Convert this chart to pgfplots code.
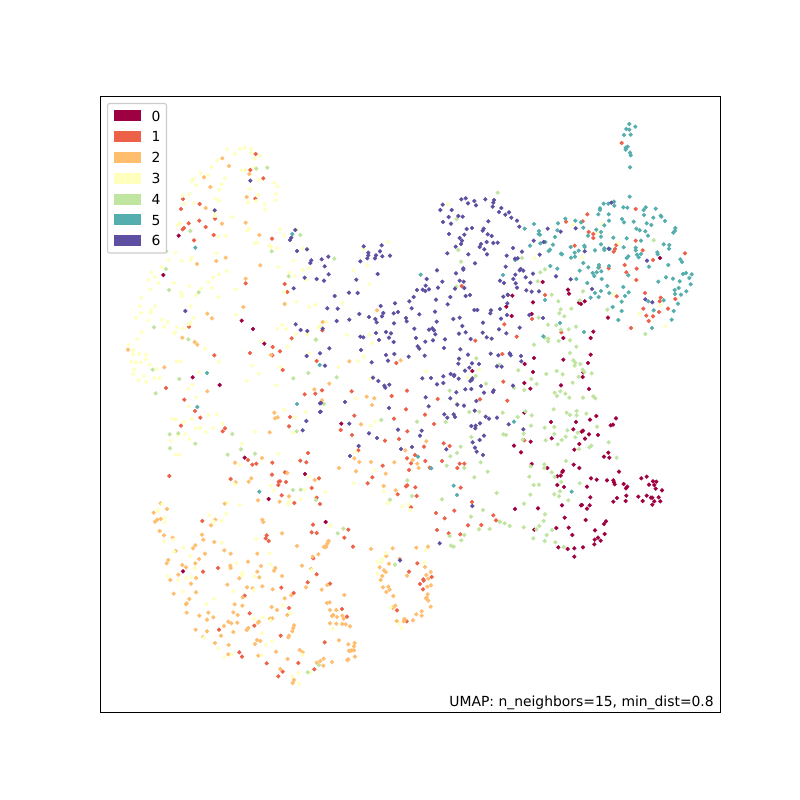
\documentclass[border=0pt]{standalone}
\usepackage{pgfplots}
\pgfplotsset{compat=1.18}
\usepackage{fontspec}
\setmainfont{DejaVu Sans}
\definecolor{c0}{RGB}{158,1,66}
\definecolor{c1}{RGB}{236,97,72}
\definecolor{c2}{RGB}{254,190,110}
\definecolor{c3}{RGB}{255,255,190}
\definecolor{c4}{RGB}{191,229,160}
\definecolor{c5}{RGB}{84,174,173}
\definecolor{c6}{RGB}{94,79,162}
\pgfplotsset{
  sc/.style={only marks, mark=*, mark size=1.32bp, color=#1, mark options={draw=none, fill=#1},
    legend image code/.code={\fill[#1, sharp corners] (0bp,-3.6bp) rectangle (19.3bp,3.6bp);}},
}
\begin{document}
\begin{tikzpicture}[x=1bp,y=1bp]
\path[fill=white] (0,0) rectangle (576,576);
\begin{axis}[
  at={(72bp,63.36bp)}, anchor=south west,
  width=446.4bp, height=443.52bp, scale only axis,
  xmin=100, xmax=720, ymin=96, ymax=712, y dir=reverse,
  xtick=\empty, ytick=\empty, axis line style={line width=0.65bp},
  clip=true,
  legend cell align=left,
  legend style={at={(axis cs:107,103)}, anchor=north west, draw=black!20, rounded corners=1.5bp,
    line width=0.8bp, font=\fontsize{10bp}{12bp}\selectfont, inner xsep=4.3bp, inner ysep=4.9bp,
    row sep=6.97bp, nodes={inner sep=0pt, text height=7.5bp, text depth=0bp},
    /tikz/every odd column/.append style={column sep=7.4bp}, fill=white},
]
\addplot[sc=c0] coordinates {
(178.7,235.7)(163.3,275)(506.3,306.7)(472.3,371)
(660,258)(542.7,282)(512.3,295.7)(568,289.7)(569,293.7)(533,302.3)(584.7,301.3)(579,302.7)(581,304)(531.7,314)(511.7,316)(608,317.7)(593.3,331.7)(563.3,338)(590.7,338)
(590.7,354.7)(534,358)(563.3,359.7)(588,363)(524.7,364)(533,372)(583.3,372.3)(582.7,377)(524.3,383)(561,385.3)(530.3,388.7)(589,389)(616,418.3)(596.3,416)(590,419.7)(576,422)(551,422)(613,424.7)(610.7,425.3)(573.3,429.3)(583,430.7)(581.7,431.7)(589,434.3)(598,435)(585,438.7)(551.7,438.3)(530.7,441.7)(514,445.7)(579.3,444)(574.3,449.7)(521,452.3)(608.3,452.7)(604,456.7)(609.3,457.7)(531.7,464)(547.3,468)(573.7,464.7)(579.3,468)(563,470.7)(562.3,472)(619,471.7)(557.3,476.3)(560.7,475.7)(591,478.3)(596.7,479.7)(607,480.3)(613.3,480.3)(614,482.3)(614.7,484.3)(623.7,484)(627.3,486.7)(626,488.3)(641.3,478.3)(646.7,476.7)(653,481.3)(656.3,481.7)(649,484.7)(654.3,485)(655.7,488.7)(662,490.3)(557.3,485)(564,487)(587,486.7)(638.3,496.7)(646.7,495.7)(651,497.7)(652.3,497.7)(658.7,497.3)(626.3,495.7)(617,498)(590.3,497.3)(642.7,501)(654.3,501.3)(660.3,501.3)(625.7,501)(613.3,501.7)(652.3,504.7)(562,505.3)(581,505.3)(582,505)(589.7,505.3)(587,508.7)(538,508.3)(515,509)(564.7,517.7)(585.7,520)(606,521.3)(604,524)(556.3,528)(568.7,527.7)(534.3,529.7)(595,530.3)(572.3,535)(604.7,534)(598,537.7)(594.7,539.7)(600.7,540.7)(594.3,544.3)(558.3,547.3)(567.7,549)(574.3,548.3)(583,547.3)(574.3,556.7)(524.3,412.7)
(241.7,320.7)(253,329)(264.3,343.7)(192.7,377.3)(219.7,385)(244.7,457.7)(305,474)(268.7,499)
(341.3,423.7)(325.7,522)(183,571.3)
};
\addlegendentry{0}
\addplot[sc=c1] coordinates {
(255.7,154)(250.3,170)(263.3,178.3)(255.3,198.7)(183,199)(181,209)(199.7,204)(215,218.7)(199.3,220.7)(188.7,223.3)(184,228)(182.7,229.3)(205.7,227)(213.7,235)(194,240.3)(272,238.7)(245.7,283.3)(284.7,284)(287.3,292)
(461.7,286)(322.3,330.3)(475.3,340.7)(504.3,324.3)(502.3,354)(316.7,361)(396.3,363)
(621.7,143)(635.7,209)(587.3,214.3)(566,221.7)(582.7,221.3)(588.7,232)(593.3,234)(593.3,238)(635.7,240.7)(574.7,245.7)(616.3,245)(615,249)(613.7,251.7)(642.7,250.3)(685,253.3)(653,260)(624.7,265)(636.7,268.7)(599,267.3)(608.7,268.3)(626.3,272.3)(636.3,280)(545,295)(616.7,296.3)(645,293)(660.7,297.7)(659.7,301.3)(675.3,299)(643.3,308.7)(668,308.7)(659,312)(646.3,315.7)(653,316.3)(648.7,321)(631,328)(532,319)(516.7,336.7)(561.3,332.3)
(503.3,381.7)(507.3,400.7)(524.3,440.3)
(189,326.7)(291.7,338.3)(272.7,347)(280,351.3)(250,353)(272.3,355.3)(214.3,355.3)(282.7,370)(166,388)(184.3,399.7)(195,411)(200.3,417.7)(304.7,394.3)(315.3,393.7)(290,417)(181,425.7)(289,426.3)(225,428.3)(222.7,431.3)(308,453)(248,460)(256.3,463.7)(252.3,464.7)(272.3,462.7)(300.3,460.7)(306.3,462.3)(169.3,476)(230.7,479)(272,474.7)(285,472.3)(278.7,481.7)(280,481.3)(278.3,485)(286,482)(319,478.3)(311.7,488)(281.7,495.3)(316.7,497.7)(294.3,503)(320,504)
(322,390.3)(351.7,391.3)(391.7,396)(407,390.7)(437.7,399)(480,399.3)(406,409.3)(425,414.7)(354.3,415.7)(394,418.7)(434,424)(340.7,430)(352,435)(407.3,431.3)(385,440.7)(399,439)(443.7,443.3)(449.7,446)(424,446.7)(358.3,450.3)(415,455)(407,458.3)(411,463.3)(425.3,461)(442,461)(459.7,463.7)(464.3,463.7)(457.3,468)(429.7,467.7)(409,470)(382.7,465.7)(372.3,477.3)(367.7,483.3)(407.3,485.3)(406,486.3)(415.3,487.3)(460.7,487.7)(397.7,494.3)(416.7,496)(411,507.3)(472,502)(454.3,510.7)(436,513)(444.7,518.3)(493.3,515.3)(496,520.3)(481.3,525)(468,525.3)(313,524.7)(348.3,529.7)(311.7,532.3)(316.7,533)(344.3,537.7)(437,530)(448.7,533.3)(460.3,534.3)(353,546.7)(313.3,558.3)(417.3,563.3)(409,571.7)(316.7,574.3)(431.7,577)(423.3,579.3)
(202.3,521)(266.7,535.3)(265.7,538.3)(268.7,541)(203,571.7)(218,568)(307.7,582.3)(330,583.7)(281.3,587.7)(293.7,593)(244.7,595.7)(289,608)(342,609)(249.7,613.3)(347,616.7)(254.3,625.7)(219,629.7)(280.7,635.7)(324.7,642.3)(239.3,652.3)(242,656.7)(266.7,663.3)(298.3,663)(314.3,669.3)(282.7,671.7)(278.3,676.3)
(423.7,580.7)(420,584)(423,589.3)(397,610.3)(406.7,621.3)
};
\addlegendentry{1}
\addplot[sc=c2] coordinates {
(222.3,158.3)(229,166)(249.3,174)(204,177.3)(210.3,187)(246.7,197)(205.7,208)(222,223.7)(245.7,222.7)(259.3,235)(197,264)(216.3,261)(225.7,257.7)(260.3,265.3)(245.7,278.7)(284.7,304)(243.3,307)
(377,310.3)(322.7,322)(349.3,361.3)(400.7,360.3)
(207.3,313.7)(212,318.3)(182.3,337.7)(194.7,342)(197.3,344.7)(128,349.7)(164.3,367.3)(207.3,391.3)(314.3,389.3)(274.3,412.7)(275,418.3)(277.7,417.3)(269.7,432.3)(262,458)(235,462.7)(251.3,478.3)(248.7,481.7)(235.7,482.3)(287.3,473)(314.7,480)(289,496.3)(258,500.3)(279.7,501.7)(224.7,503.7)(160.7,503.3)(167,509)(271,355)
(329.3,383.7)(322,400.3)(366.7,396.7)(374.3,398.3)(372,405)(361,424.3)(426.3,441.3)(405.3,450.3)(412.7,460)(417.3,463.7)(418.7,468)(354.3,458.3)(359.3,462)(371,462)(394.3,462.3)(339,468)(356,471.3)(385.7,473.7)(383.7,486)(395.7,490.3)(328.7,541)(327.3,543.7)(326,546.3)(324,546.7)(318.3,554.3)(312.7,556.7)(371,549)(392.7,548.3)(416.3,547.7)(428,546.7)(386.3,556)(399.7,558.7)(389,563.7)(379.7,567.3)(384,570.3)(385.7,572)(382.3,576)(380.7,580)(407,575.7)(426.3,575)(430.7,572)(425,567)(428.3,578.7)(311,569)
(153.7,512.7)(155,521.7)(157.3,519.7)(160.7,519)(215.3,519.7)(211,525.3)(262.3,519.7)(263.3,522)(159.7,531)(282,533.3)(202,534.7)(164,535.3)(172.7,537.7)(203.3,539.7)(214.3,542)(195.3,545.3)(193,548.3)(175.7,551)(205,553.7)(224.3,550.3)(230.7,553.7)(257.3,553.7)(297,546)(328.3,541.3)(324.3,547)(326,547)(199,559)(168.3,560)(166.7,563.3)(182.3,565)(186,567.3)(195.3,563.3)(230.3,565.7)(230.7,568)(248,561.7)(261,566)(275.3,568)(274,570.7)(302,565.7)(257.3,571.7)(259.3,577.3)(239.3,578.3)(178.3,574.7)(196,578)(170.3,580)(191,583.7)(282,576)(227.3,584.7)(247,587.3)(252.7,588.3)(262.3,586.3)(272.7,589.3)(306,587.3)(321.7,589.7)(327.3,585)(196,592.3)(173.7,593.7)(344.3,595)(291.3,595.3)(284.7,598.3)(242.7,597.3)(189.3,599)(186.7,603.3)(186,604.3)(234.7,604.3)(242.3,605.7)(327,603)(329.7,602.3)(271.7,607)(277,610)(330,610)(336.3,610)(186.7,612.7)(233.3,612.3)(237.7,615)(287.3,615)(199.3,615.7)(208.3,612.7)(213.3,617.3)(207,619.7)(270,618.7)(272.3,618.3)(271,619.7)(333.3,615)(332,616)(337,617)(342.3,615.7)(343.7,618.7)(330,623.3)(336.3,623.7)(342.3,624)(345.7,624.3)(350,626.3)(228.3,621.7)(231.3,623.3)(237.3,622.7)(258,622.7)(259,621.7)(224,626)(294,625.3)(293.3,628)(248.3,628)(246.7,630)(292.3,631.3)(195.7,629.7)(207,631.3)(233.3,632)(221,635.7)(203.3,637)(289,635.7)(288.3,637.3)(257,640)(260.3,641)(255,644)(215,643)(228.7,645)(339,640.3)(348.3,644.3)(276,651.7)(299.7,650)(302.7,652.3)(228.3,654.3)(258.3,655.7)(287.7,659)(349,650.7)(323.7,658.7)(320.3,661)(316.7,662.7)(332,662)(323.3,665.7)(347.3,660)(348.3,659.3)(280.3,669)(294,680)(292.7,683)
(354.7,643)(354,646.3)(351.7,650.3)(354,650.3)(350,651)(355,656.7)
(383,587.3)(388.3,586.7)(389.7,589.7)(386.3,592)(393.3,596)(395.3,605.7)(392.7,608)(427.3,586.7)(431,585.3)(427.7,594.3)(426.7,597.7)(426,598.3)(428.3,600.7)(430.7,606.7)(421.7,611.3)(416.3,614.3)(421.7,615.7)(413,620.3)(396.7,621)(404.3,619)(405,619.7)(403.7,621.3)
};
\addlegendentry{2}
\addplot[sc=c3] coordinates {
(227,149.3)(240,149)(244.7,147.7)(251,149)(251.3,153)(260,155.7)(254.7,158.7)(235.3,154)(217.3,160.3)(211.3,167)(200.7,173.3)(193.3,179)(191.7,181.3)(208,175.3)(196,185)(225,178.3)(221.7,184.3)(219.3,189.7)(241.3,170.3)(245.3,170.3)(254.3,167.7)(259,180)(250,189)(274,182.7)(277.3,186.7)(276,194)(275.3,200.3)(258,195)(248,202.3)(256,201)(265,204.3)(265,209.7)(215.7,198.7)(219.3,200.7)(189.3,194)(182.7,195.7)(184.7,203.7)(193.3,203)(215,216)(232.3,217)(180,223.3)(177.3,225.3)(218.7,236.3)(226,235.7)(249,228.7)(247.3,230.7)(255.3,243.3)(257.3,242.7)(269.3,245.3)(270.7,247)(277,248.3)(280,229.3)(284,235.3)(297.3,229.3)(303.3,248.3)(293.3,260.7)(278.3,267)(289.3,272.7)(294.7,276)(302.7,270)(308.7,268.7)(306,279.7)(284,292)(296.3,301.7)(175.7,252.7)(168.7,260.3)(182,260.7)(191.7,257.7)(190.7,260)(216.3,253.3)(161.7,267)(151.3,272.3)(155,277)(148.3,280)(158.3,282.7)(150.7,289.3)(174,283)(189.3,286)(181,292.7)(182.3,296)(196,295.3)(201.3,288.7)(211.7,288)(208.3,282)(213.3,277.3)(218.7,274.3)(226.7,271.3)(236.3,289.3)(218.3,297)(140.7,297.7)(140,306)(155,306.3)(190.7,306.3)(215,212)
(387.7,242)(363.7,248.7)(367.3,265.3)(353.3,270.3)(369.3,284.3)(309.3,306.7)(315.3,304.7)(342.7,302.7)(326.7,322.3)(318.3,327.7)(320,325.7)(306.7,334)(347.3,335)(369.3,335)(372,343.3)(309.3,353)(364,356.7)(358.3,361)(338,367)(426,371.3)(448,204.3)(479.3,369.3)(468.3,377.3)(370,379)
(573,224.7)(601.7,224)(597.3,232.3)(618.3,243)(534.7,258.3)(582.3,257.3)(613.3,293.7)(660.3,305.3)(639.3,313.7)(665.3,326.3)
(150.7,310.3)(150.7,312.7)(141.3,313)(136,317.7)(148.3,320.3)(161.7,319.7)(167.7,322)(164,326.7)(177,327)(183,328.7)(188.3,324.3)(190.7,323)(193.7,318)(236,314.7)(141.7,332.3)(175,332.3)(174.3,333.3)(137.3,339.3)(128.7,344.7)(133.3,350)(133.3,354.3)(139,353.7)(146,354.7)(145.7,359.3)(131.3,361.7)(135.7,362.7)(140.7,362.3)(150,364.7)(134.3,369.3)(156.7,369)(133.3,374)(144,376)(138.3,380.3)(146,382)(154.3,378)(159.7,378)(176.7,361.3)(180.3,361.7)(205.3,348.7)(219,361.7)(198.7,372.3)(192.3,384.7)(188.3,388.7)(196.3,397.3)(188.7,406.3)(172,418.7)(175.7,419.7)(191.7,419)(184,422)(208.3,415.3)(217,414.3)(222,423.7)(195.7,428.3)(200.3,428)(213.3,428)(205.7,432)(177.7,435.3)(185,434.3)(189.3,439.3)(171,440.7)(175.7,454.7)(179.3,454.7)(252.3,365.7)(259,373.7)(247,381)(261.3,341)(275.7,385.3)(280.3,367)(277.3,328.7)(282,325)(286,329)(296,334)(307,334.3)(287.7,346.7)(284.3,409.7)(305.7,412)(295.7,417.7)(292.7,432.7)(255.3,431.7)(242,443.7)(278.3,453.7)(239.7,465)(234.7,484.3)(270.7,485.7)(273.7,490.3)(304.7,489.7)(308.3,476.7)(300.7,499.3)(289.3,500.7)(288.3,504)(227.7,502.3)(239.7,505)(162.3,504)(157.7,510)
(355.7,398)(375.3,421.7)(370.7,426)(355.7,452)(374.7,469.7)(353.7,483.3)(384,491.3)(325.3,492.3)(387.3,503.3)(388.3,503)(402.3,506.3)(408.3,504.3)(410.7,510)(330.3,525.7)(386,553.3)(425.7,550.3)(377.3,562)(381.7,562.3)(382.3,559.3)(424,562.3)(377.3,573.7)(311.7,570)
(158,511)(164.3,517.7)(164.7,522.3)(209.3,515.3)(226,513.7)(221.7,520.7)(214,521.7)(164,541.3)(173.3,539.7)(183.7,547.7)(174,551.7)(190.3,556)(222,542.7)(256.3,539)(269.7,553.3)(330,525.3)(236.3,563)(270.3,564.3)(194.7,568)(167.3,576)(178.3,580)(186,578)(191.3,576.7)(242.3,572.7)(242,575.3)(254.3,576.3)(253.7,590)(182.7,591.7)(234,591.3)(214,599)(206.3,604.3)(283,605.3)(290.7,613)(254,618.7)(262.7,617.3)(270.7,620.3)(262.3,633.3)(204,637.7)(272,641.3)(265.7,645)(218.3,648.3)(231.7,654.3)(224.3,657.3)(261.7,655.3)(302.3,654.7)(298.3,672.7)(292.3,676.7)(310.3,672.3)(299,683.7)(332.7,628.7)(390.7,607.3)(399.3,623.7)(401.7,628.3)
};
\addlegendentry{3}
\addplot[sc=c4] coordinates {
(256.3,168.7)(267.3,167.7)(190.3,231)(271.7,251.3)(300.3,235)(166.3,251.3)(166,269)(169,290)(198.7,292.3)(288.7,276.3)
(497.7,192.7)(456.7,219)(458.3,250)(461,261.7)(456.3,286.7)(334.3,258.7)(315.7,339.7)(308.3,373)(336.7,377.3)(476.3,358.3)(499.3,364.7)(475.7,376)
(653.7,240.3)(522,258)(545,269.3)(540.3,272.3)(537.7,281.3)(551.7,294.7)(583,291.3)(558.3,301.3)(579.7,300.3)(571.3,308.7)(560.7,309.3)(559.3,313.3)(564.3,316.3)(607.3,309.7)(538.7,317.7)(548,324.7)(556.3,325.3)(561,329.7)(568.7,329.3)(576,326.7)(548.3,338.7)(548,341.3)(558.7,341)(570,340.3)(544.7,337.7)(534,344.7)(576.3,346.7)(645.3,334)
(570,353)(573.3,360.3)(575.3,362.7)(580.3,364)(574.7,365.7)(582.7,369.7)(584.3,372)(591.7,373.3)(578.7,376.7)(556.7,371)(562.7,374.3)(546.3,374)(518.3,370.3)(531.3,379)(536.7,384)(572.7,382.7)(514,388)(524.3,390)(554.7,392.7)(560.3,391.3)(565.3,393.7)(557,396)(569.3,397.7)(583,397.7)(593.3,396.3)(595.3,398.3)(553.7,409.3)(566.7,412.7)(570,415)(576.7,411)(576.7,415.3)(586.3,413.7)(502.7,412.7)(525.3,411.3)(531.7,415.3)(517.7,417)(544.7,427.7)(531,425.7)(554.3,427)(597,426.7)(567.3,430.3)(577.7,432.7)(554.3,434)(565.7,436.7)(575.3,437.3)(523.7,433.7)(503.3,434.3)(506,435)(522.7,439.7)(545.7,440.3)(561.7,440)(557.7,444.3)(608.7,442.3)(591.3,445.7)(589.3,447.3)(579,449)(616.7,457.7)(566,461)(544.3,464.3)(530.7,466.3)(544.3,468)(551.7,472.3)(554.7,477)(529.3,476.7)(561.3,482)(533.7,485)(539,484.7)(579.7,483.3)(560,491.3)(554.3,494.3)(559,496.3)(530.3,494.7)(568.3,500.3)(524,503.7)(545,514.3)(543.7,521)(500,521.7)(504.7,523.3)(509.7,526)(523.7,527.3)(539.3,526)(536.3,529.3)(552,530)(546.7,535)(533.3,538.3)(544.7,541)(555.3,542.3)(563.7,547)
(154,327.3)(188.3,339.3)(316,339.7)(152.7,369.7)(179.3,379)(155.7,393.3)(293.3,378.3)(296.7,431.3)(178.3,433.3)(169.7,434.3)(232.3,434)(195.3,443.7)(170,448.3)(241,449.3)(227.7,454.7)(255,453.7)(293,490)(300.7,489.7)(316,500)
(324,404)(486,383.7)(449.7,390.7)(456.7,404)(469.3,412)(479.3,411.7)(445.7,422)(417,421.7)(381.3,420)(471.3,437)(460.7,446.7)(457,453)(450.3,456.3)(480.7,462.3)(446.7,465.7)(464.3,468)(487.7,471.7)(474.3,477.3)(407.3,480.3)(412,496)(390,499.7)(442,499.3)(496.7,493)(483,510)(471,516.7)(499.3,521.7)(479,529.3)(489.7,529)(343.3,528.7)(337.7,533.3)(464.3,535)(449.7,536)(461.3,540.3)(451,545.7)(453.7,546.7)(395,564.7)
(319,665)(307.7,672.3)
};
\addlegendentry{4}
\addplot[sc=c5] coordinates {
(195.3,247.7)(292.3,234)(420.7,274.7)(503,275)(319.7,365)
(629.3,124)(635.3,126.7)(626.3,129)(629.3,129.7)(624,135)(630.7,134.7)(627.7,146.7)(625.7,147.7)(625.7,149.7)(630,152.7)(630.7,155.3)(630,167.3)(629.7,196.7)
(614,201.7)(603.7,203.7)(608.3,203.7)(614.3,205.7)(600,208.3)(600,210)(623.3,207.3)(627.3,207.7)(645.7,207.3)(643.7,210)(655.7,208.7)(598.3,214.3)(608.7,214.3)(644,215)(653.3,217.7)(660.7,215.7)(661.3,216.7)(665,221)(609,220.7)(622,219)(624,222.3)(633.7,221.7)(646.7,223.3)(651.3,225)(604.3,225.3)(575.3,220.7)(581,222.3)(583.3,227.7)(565.3,218.7)(558,223.3)(534,224)(524.7,228.7)(539,231)(538.7,234)(540,234.7)(557.3,230.3)(555,237)(540.3,243.3)(545.3,242)(596.3,229.7)(601,232)(601,236.7)(588,235.7)(613.3,237.7)(626.7,238.3)(636.3,228.7)(639.7,230.3)(645.3,231.3)(648,235.7)(641,240.7)(675.3,228)(675,230.7)(673.3,232.7)(601,244.3)(570.7,247)(584.3,245.7)(584.7,247)(578.7,250.7)(574.7,252.7)(595,250.3)(604.3,248.3)(604.3,250)(609.7,249)(623.7,247.3)(635.7,247.7)(635.7,250.3)(663.7,244.3)(669.3,245)(669,248.7)(553,244.7)(550,249.7)(548.7,251)(530,245.7)(561,253.7)(562,254.3)(571,257.7)(575,256.7)(637,254.7)(641,254)(638.7,257.3)(657.3,252.3)(657.7,254.3)(628.3,256.3)(626.7,258)(680.3,259.3)(682,262)(668.3,265)(583.3,263)(588.3,267.3)(599,265)(598.3,267.7)(609,266)(550.3,266)(557.3,268.7)(579.7,270.7)(592.7,273)(596.7,272.3)(601.3,271.3)(594.3,276)(601.7,279)(628.3,275.3)(649,266.7)(683,274)(686,273)(691.7,274.3)(666,277.3)(673,278.7)(689.3,278)(679.7,281.3)(658.3,281.7)(690.7,284.3)(587.3,283)(576.3,279)(607.3,286)(623.3,287)(678.7,288)(674.7,290)(675,294)(686.3,291.3)(681,294.7)(595,293)(601,291)(609.3,293)(628.7,292.3)(625,296)(590.7,297.7)(598.7,297)(648.3,301.3)(621.7,301.7)(663.7,300.3)(678,303.7)(612.7,307)(621.7,311)(653.7,310.3)(673.7,311)(618.3,320)(671.7,319.7)(652,328)(584,332)(560,323)(543.3,336.3)(545,300)(515.3,260)
(514,421.7)(571.7,491.7)(207,373)(197.3,407)(297,404)(259.3,491.7)
(418,456.7)(431.3,468.3)(453.7,485.7)(457,495)
};
\addlegendentry{5}
\addplot[sc=c6] coordinates {
(250.3,180.7)(214.7,210.3)(295.3,230)(291.3,237.7)(290,240)(297,251)(307,249.3)(304.7,277.7)(293.7,288.3)
(311.3,260.3)(310.3,263)(321.7,259.3)(328.3,256.7)(324.7,266.3)(328.7,274.3)(316.7,279)(324,280.7)
(363.7,246.3)(381.7,245.3)(380,251.3)(368.3,252.7)(368.3,255.3)(367.3,258.3)(376,255.3)(375,258.3)(382.3,256.3)(390,255.7)(360.3,261.3)(377.7,274)(356.3,279.7)
(334.7,296)(349,292.7)(357.7,293)(327.3,308.3)(337.7,308.7)(336.7,321)(349.3,319.7)(359.3,314)(369,317)(375.3,319)(376.7,322.3)(380.7,306)(383.3,313)(382,316.3)(395,303.3)(393.7,313.3)(398,312)(394,323.3)(406,318)(406.7,321.3)(409.3,301.3)(413.7,297)(411.7,308.3)(419.3,314.3)(417,290)(422.7,289.7)(425.3,291)(429,289.3)(425.7,285.7)(426.7,279)(437,270.3)(442.3,281.7)(438,287.7)(436,299.7)(435,311.7)(436.7,321.7)(414.3,328.7)(429,329.7)(432.3,328.3)(434,330.3)(435.3,334.3)(416,338)(425.3,341.7)(433,340.3)(445,339.3)(444,348)(417.7,346.3)(419.3,348.7)(424.7,355.7)(408.7,356.7)(394.3,354)(386,355)(388,360.7)(371.7,362.3)(361,350)(360.3,336.7)(363.3,337.3)(376,333)(386,332)(391,333.3)(389,337.7)(393.7,342)(379,340)(329.3,348.3)(320,353.3)(306.7,356)(325,365.7)(322.7,328.7)(307.3,331)(300.7,330)
(442.7,204.7)(440.3,210)(451.7,210)(448.7,217)(458.3,216)(462.7,216.7)(443,222)(451,223.7)(461.3,199.3)(465.7,198.3)(468,203.3)(474.3,201)(476,205.3)(485.3,199.3)(494,200)(493.3,202.7)(492.7,206.7)(501.3,208)(499,212)(505.3,214.7)(509,212.3)(488.3,221.3)(466.7,229)(472,228)(483.7,228.7)(482.7,230.7)(449,234)(464.3,234.7)(459.7,238)(462,240.7)(461,244)(455.7,246.7)(447.3,253.3)(468.3,254.3)(487.7,234.3)(491.7,236)(486.7,242)(493.3,243)(497.7,242.7)(481,244)(479.7,247)(484.3,249.3)(487,254.3)(506.7,255.7)(475,263.3)(505.7,266.7)(463.3,268.3)(463.3,269.7)(456,273.3)(459.7,280.7)(463.7,281.7)(455,288.7)(464.3,288)(500,280.7)(504,283)(450.3,297)(447.7,304.3)(465.7,296)(470,295)(503.3,296.7)(508,295)(474.3,310)(477.3,310)(491,310.3)(490.3,313.3)(500,309)(507,315)(501,318.7)(459.7,317.7)(453.3,319)(462.3,326)(483,322.7)(499,329.3)(459,333.7)(465.7,332.3)(482.7,332.7)(486.7,337.3)(491.7,338.7)(506.3,333.3)(470.7,339)(460.3,349.3)(459,358.7)(458.3,363.7)(468,354.7)(490.7,353.7)(498.3,355.3)(510,354)(472,363.3)(479,364)(469.3,367.7)(465,370.7)(497,366.3)(501.7,366.7)(422.3,378.3)(431,378)(443.3,376.3)(450.7,374)(454.3,375)(458.7,378.7)(471.7,380)(373,377.7)
(611.3,202.7)(575.7,228.3)(547.7,228.7)(560.7,231.7)(519.3,226.7)(517,220.7)(511.3,217.7)(533.7,240.7)(543.7,242)(513,248)(522,251.7)(539.7,254.7)(515,258.7)(517.7,258.3)(584.7,251.3)(608.7,248.7)(647,260.7)(520.7,269)(519.7,270.3)(523.3,270.7)(515.3,274.7)(533,273.7)(525.7,277.3)(513.3,279)(556,276.3)(570.7,279.3)(530.3,282.7)(515.7,283.3)(517,287.7)(526.3,290.3)(531.7,291.7)(539,291.3)(592,289)(507.7,294.7)(645.3,299.3)(652.3,302.3)(507.3,303.3)(529.3,315)(543,318)(519.7,327.7)
(509.7,353.3)(510.7,355.3)(521,356)(521.3,361.3)(513,385.7)(508.7,424.3)(523.3,429.3)
(185.3,311)(295.7,324.3)(306.3,421)(302.7,430.3)(320,412)(320,403.3)
(378.3,381)(384.3,385.7)(385.3,387.7)(389.3,384.7)(454,376)(472.3,378.3)(470.3,381)(437,384.3)(443.3,383)(481,386)(456.3,392.3)(465.3,389.3)(471.3,389)(484,392.7)(493,392)(493.7,390.3)(425.7,397.3)(450.3,398.3)(476.3,401)(457.3,404.7)(464,405.7)(428.7,406.3)(345,402)(321,403)(389,408)(320.7,411.7)(474.7,410.7)(444.3,414.3)(453.7,414.3)(447.3,417.7)(455,417)(485.7,416.7)(489,418.7)(497,417.7)(349.3,423.7)(471.3,426)(475.7,425.7)(475.3,428.3)(480,423.3)(398,429.7)(421.7,430.7)(420,435.7)(369,433.3)(377,438)(484,435.7)(479.7,440)(472.7,442.3)(358.7,446)(401,449)(412,447)(446.3,449.3)(475,447.7)(476.7,451.7)(483,455)(350,456)(472.3,506)(439.7,543.3)(400,560.3)
};
\addlegendentry{6}
\node[anchor=base east, font=\fontsize{10bp}{12bp}\selectfont, inner sep=0pt] at (axis cs:714,706.5) {UMAP: n\_neighbors=15, min\_dist=0.8};
\end{axis}
\end{tikzpicture}
\end{document}
